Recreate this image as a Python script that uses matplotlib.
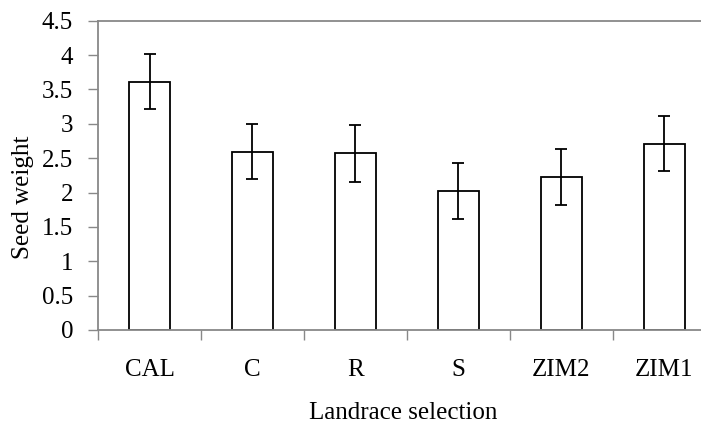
import numpy as np
import matplotlib.pyplot as plt

# Data
categories = ['CAL', 'C', 'R', 'S', 'ZIM2', 'ZIM1']
seed_weight = [3.61, 2.59, 2.57, 2.02, 2.23, 2.71]
errors = [0.40, 0.40, 0.41, 0.41, 0.41, 0.40]

plt.rcParams['font.family'] = ['Liberation Serif', 'DejaVu Serif']

W, H = 701, 426
fig = plt.figure(figsize=(W / 100, H / 100), dpi=100)
# axes runs past the right edge of the picture, like the original crop
ax = fig.add_axes([98 / W, 96 / H, 618 / W, 309.3 / H])

x = np.arange(len(categories))
ax.bar(x, seed_weight, width=0.4, color='white', edgecolor='black', linewidth=1.3,
       yerr=errors, error_kw=dict(ecolor='black', elinewidth=1.3, capsize=4.5, capthick=1.3))

ax.set_xlim(-0.5, len(categories) - 0.5)
ax.set_ylim(0, 4.5)
ax.set_yticks(np.arange(0, 4.51, 0.5))
ax.set_yticklabels(['0', '0.5', '1', '1.5', '2', '2.5', '3', '3.5', '4', '4.5'])

# category labels centred on bars, tick marks between categories
ax.set_xticks(x)
ax.set_xticklabels(categories)
ax.set_xticks(np.arange(-0.5, len(categories), 1.0), minor=True)
ax.tick_params(axis='x', which='major', length=0, pad=21, labelsize=18)
ax.tick_params(axis='x', which='minor', length=7, width=1, color='#888888')
ax.tick_params(axis='y', length=7, width=1, color='#888888', pad=11, labelsize=18)

for side in ['left', 'bottom', 'top', 'right']:
    ax.spines[side].set_color('#888888')
    ax.spines[side].set_linewidth(1.3)

ax.set_ylabel('Seed weight', fontsize=18)
ax.yaxis.set_label_coords((34 - 98) / 618, (330 - 197) / 309.3)
ax.set_xlabel('Landrace selection', fontsize=18)
ax.xaxis.set_label_coords((403 - 98) / 618, -(413 - 330) / 309.3)
ax.xaxis.label.set_verticalalignment('center')

fig.savefig('out.png', dpi=100)
